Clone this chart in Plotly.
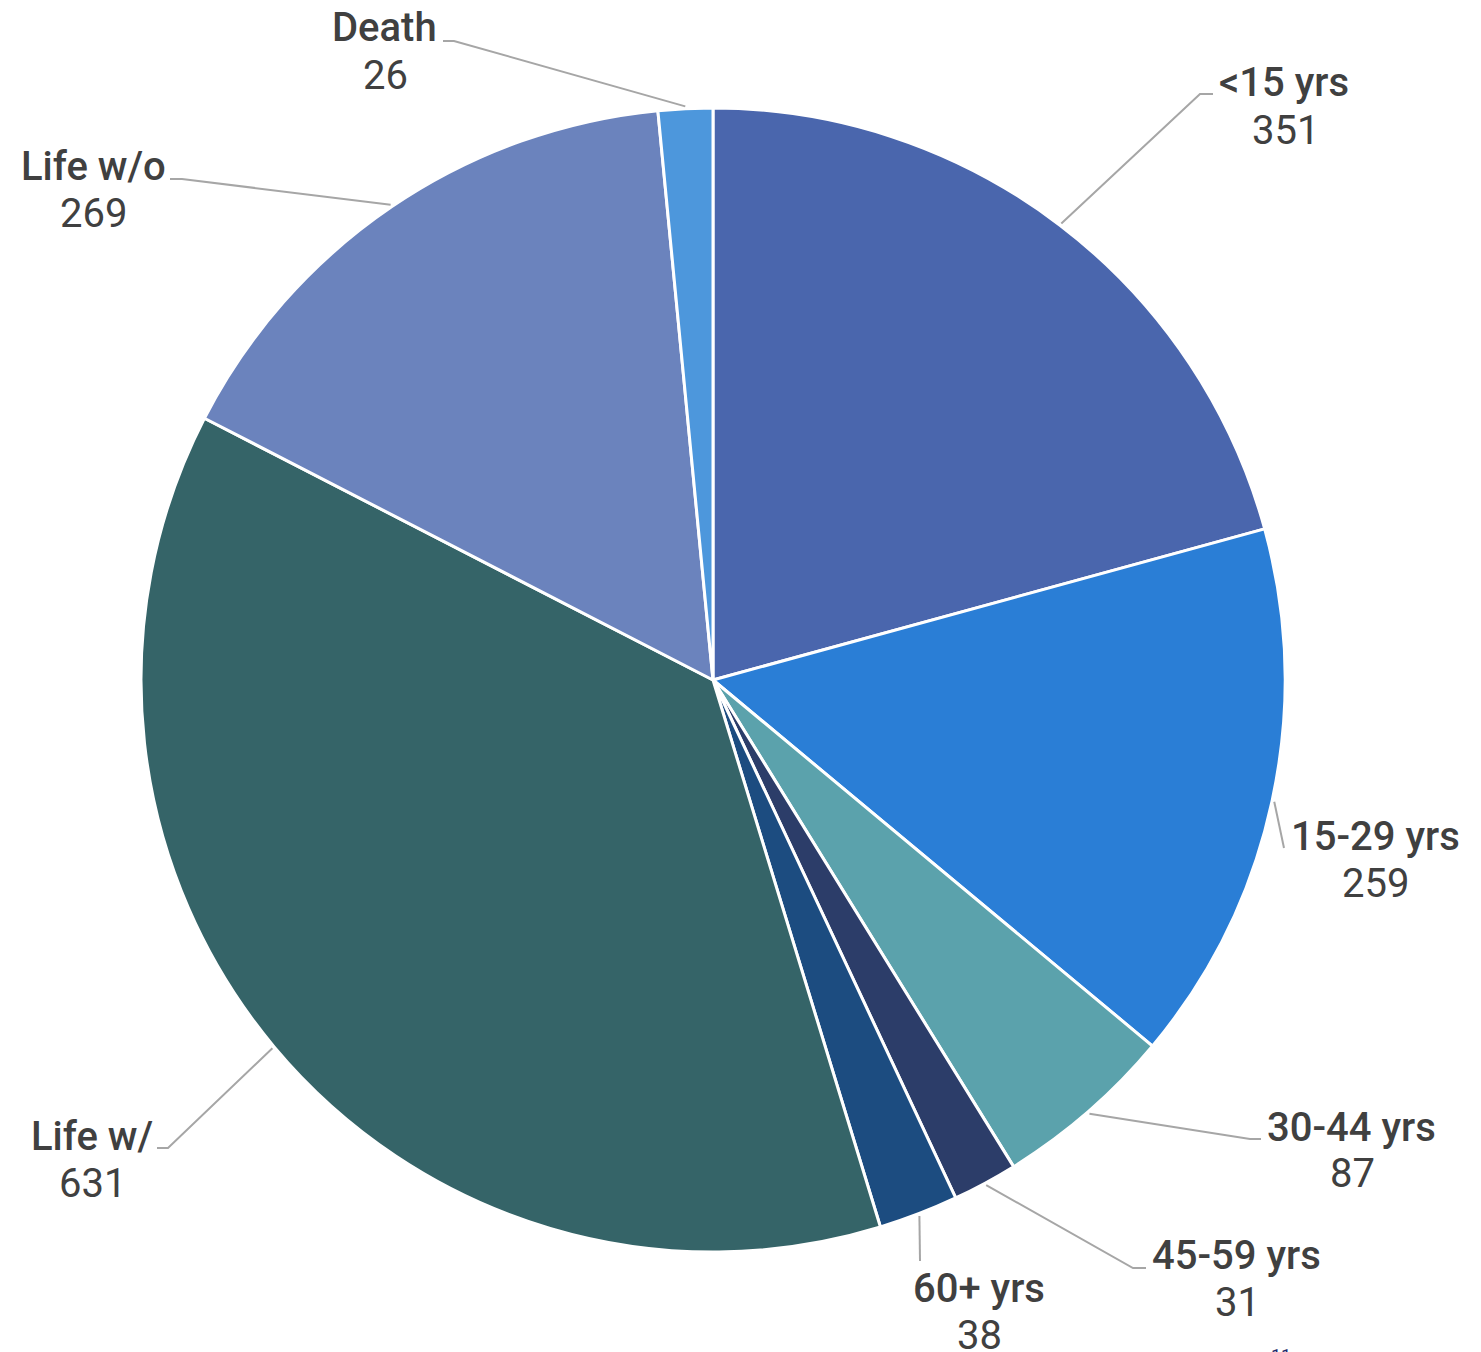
import math
import plotly.graph_objects as go

# ---- data ----
categories = ["<15 yrs", "15-29 yrs", "30-44 yrs", "45-59 yrs", "60+ yrs", "Life w/", "Life w/o", "Death"]
values = [351, 259, 87, 31, 38, 631, 269, 26]
colors = ["#4a66ad", "#2a7ed6", "#5ba2ac", "#2c3d69", "#1c4c80", "#356468", "#6b83bd", "#4d97dc"]

# ---- layout constants (pixels) ----
W, H = 1481, 1352
CX, CY, R = 713, 680, 572

def px(x):
    return x / W

def py(y):
    return 1 - y / H

# label layout: leader line bend/end points and text centres (pixels)
label_layout = {
    "<15 yrs":   dict(path=[(1200, 94), (1213, 94)],   name=(1284, 83),   value=(1285, 130)),
    "15-29 yrs": dict(path=[(1284, 848)],               name=(1375, 836),  value=(1375, 883)),
    "30-44 yrs": dict(path=[(1250, 1139), (1261, 1139)], name=(1351, 1127), value=(1352, 1173)),
    "45-59 yrs": dict(path=[(1133, 1268), (1146, 1268)], name=(1236, 1255), value=(1237, 1302)),
    "60+ yrs":   dict(path=[(920, 1261)],               name=(979, 1288),  value=(980, 1335)),
    "Life w/":   dict(path=[(168, 1148), (157, 1148)],   name=(92, 1136),   value=(92, 1183)),
    "Life w/o":  dict(path=[(182, 179), (170, 179)],     name=(93, 166),    value=(93, 213)),
    "Death":     dict(path=[(454, 41), (443, 41)],       name=(384, 28),    value=(385, 75)),
}

FONT = "Roboto, 'Liberation Sans', Arial, sans-serif"
TEXT_COLOR = "#404040"
LINE_COLOR = "#a6a6a6"

fig = go.Figure(go.Pie(
    labels=categories,
    values=values,
    sort=False,
    direction="clockwise",
    rotation=0,
    marker=dict(colors=colors, line=dict(color="white", width=3)),
    textinfo="none",
    hoverinfo="label+value",
    showlegend=False,
    domain=dict(x=[px(CX - R), px(CX + R)], y=[py(CY + R), py(CY - R)]),
))

shapes = []
annotations = []
total = sum(values)
cum = 0
for cat, val in zip(categories, values):
    mid = (cum + val / 2) / total * 2 * math.pi
    cum += val
    sx = CX + R * 1.004 * math.sin(mid)
    sy = CY - R * 1.004 * math.cos(mid)
    pts = [(sx, sy)] + label_layout[cat]["path"]
    d = "M " + " L ".join(f"{px(x):.5f},{py(y):.5f}" for x, y in pts)
    shapes.append(dict(type="path", xref="paper", yref="paper", path=d,
                       line=dict(color=LINE_COLOR, width=2)))
    nx, ny = label_layout[cat]["name"]
    vx, vy = label_layout[cat]["value"]
    annotations.append(dict(x=px(nx), y=py(ny), xref="paper", yref="paper",
                            text=cat, showarrow=False, xanchor="center", yanchor="middle",
                            font=dict(family=FONT, size=40, color=TEXT_COLOR, weight=500)))
    annotations.append(dict(x=px(vx), y=py(vy), xref="paper", yref="paper",
                            text=str(val), showarrow=False, xanchor="center", yanchor="middle",
                            font=dict(family=FONT, size=40, color=TEXT_COLOR)))

# page number at the bottom edge, mostly cut off as in the source
annotations.append(dict(x=px(1281), y=py(1343), xref="paper", yref="paper", text="11",
                        showarrow=False, xanchor="center", yanchor="top",
                        font=dict(family=FONT, size=18, color="#1f2a6b")))

fig.update_layout(
    width=W, height=H,
    margin=dict(l=0, r=0, t=0, b=0),
    paper_bgcolor="white",
    plot_bgcolor="white",
    shapes=shapes,
    annotations=annotations,
)

fig.write_html("out.html", config={"displayModeBar": False},
               post_script="document.body.style.margin='0';document.body.style.overflow='hidden';")
